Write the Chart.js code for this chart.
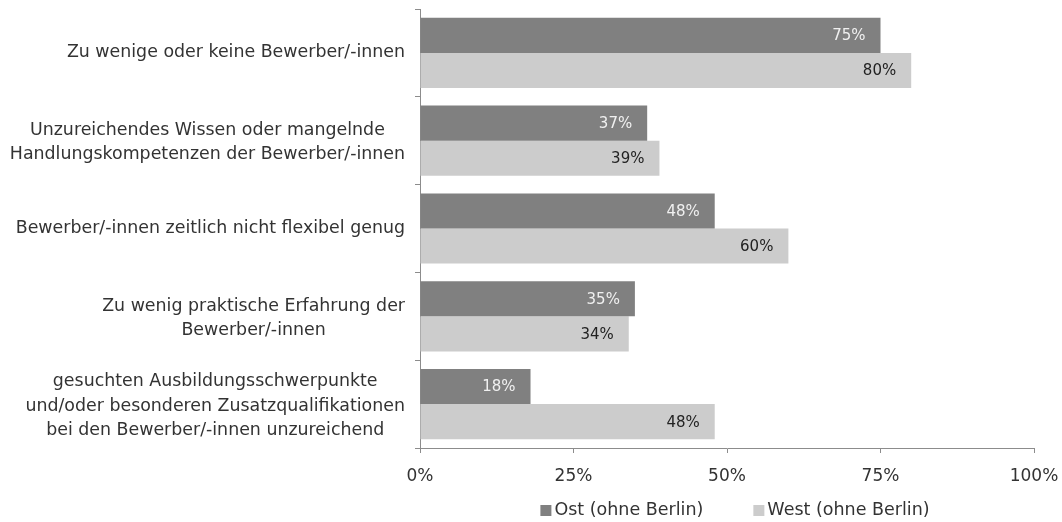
<!DOCTYPE html>
<html lang="de">
<head>
<meta charset="utf-8">
<script src="https://cdn.jsdelivr.net/npm/chart.js@4/dist/chart.umd.min.js"></script>
<style>
  html, body { margin: 0; padding: 0; background: #fff; }
  #wrap { width: 1062px; height: 522px; }
</style>
</head>
<body>
<div id="wrap"><canvas id="chart"></canvas></div>
<script>
'use strict';

// ── Data ─────────────────────────────────────────────────────────────────────

const categories = [
  ['Zu wenige oder keine Bewerber/-innen'],
  ['Unzureichendes Wissen oder mangelnde', 'Handlungskompetenzen der Bewerber/-innen'],
  ['Bewerber/-innen zeitlich nicht flexibel genug'],
  ['Zu wenig praktische Erfahrung der', 'Bewerber/-innen'],
  ['gesuchten Ausbildungsschwerpunkte', 'und/oder besonderen Zusatzqualifikationen', 'bei den Bewerber/-innen unzureichend'],
];
const seriesNames = ['Ost (ohne Berlin)', 'West (ohne Berlin)'];
const ostValues   = [75, 37, 48, 35, 18];
const westValues  = [80, 39, 60, 34, 48];
const xTicks      = [0, 25, 50, 75, 100];

// ── Style ────────────────────────────────────────────────────────────────────

const FONT      = "'DejaVu Sans', Verdana, sans-serif";
const TEXT      = '#333333';
const AXIS      = '#8c8c8c';
const DARK_BAR  = '#808080';
const LIGHT_BAR = '#cccccc';
const COLORS    = [DARK_BAR, LIGHT_BAR];

// Category labels: each block right-aligned to the axis, lines centred within it.
const categoryLabels = {
  id: 'categoryLabels',
  afterDraw(chart) {
    const { ctx, scales: { y }, chartArea } = chart;
    const right = chartArea.left - 15;
    const lineH = 24.5;
    ctx.save();
    ctx.font = '17.4px ' + FONT;
    ctx.fillStyle = TEXT;
    ctx.textAlign = 'center';
    ctx.textBaseline = 'middle';
    categories.forEach((lines, i) => {
      const w = Math.max(...lines.map(l => ctx.measureText(l).width));
      const cx = right - w / 2;
      const cy = y.getPixelForValue(i) + (lines.length > 1 ? 2 : 0);
      lines.forEach((l, k) => {
        ctx.fillText(l, cx, cy + (k - (lines.length - 1) / 2) * lineH);
      });
    });
    ctx.restore();
  },
};

// Value labels inside the end of each bar.
const valueLabels = {
  id: 'valueLabels',
  afterDatasetsDraw(chart) {
    const { ctx } = chart;
    ctx.save();
    ctx.font = '15px ' + FONT;
    ctx.textAlign = 'right';
    ctx.textBaseline = 'middle';
    chart.data.datasets.forEach((ds, di) => {
      chart.getDatasetMeta(di).data.forEach((bar, i) => {
        ctx.fillStyle = di === 0 ? '#f0f0f0' : '#222222';
        ctx.fillText(ds.data[i] + '%', bar.x - 15, bar.y + 1);
      });
    });
    ctx.restore();
  },
};

// Legend below the axis: small square, tight gap, text.
const bottomLegend = {
  id: 'bottomLegend',
  afterDraw(chart) {
    const { ctx } = chart;
    const box = 11, gap = 3, between = 50, cy = 510, centre = 735;
    ctx.save();
    ctx.font = '17.5px ' + FONT;
    ctx.textBaseline = 'middle';
    ctx.textAlign = 'left';
    const widths = seriesNames.map(n => ctx.measureText(n).width);
    const total = widths.reduce((s, w) => s + box + gap + w, 0) + between;
    let x = centre - total / 2;
    seriesNames.forEach((n, i) => {
      ctx.fillStyle = COLORS[i];
      ctx.fillRect(x, cy - 5, box, box);
      ctx.fillStyle = TEXT;
      ctx.fillText(n, x + box + gap, cy);
      x += box + gap + widths[i] + between;
    });
    ctx.restore();
  },
};

new Chart(document.getElementById('chart'), {
  type: 'bar',
  data: {
    labels: categories,
    datasets: [
      { label: seriesNames[0], data: ostValues,  backgroundColor: DARK_BAR },
      { label: seriesNames[1], data: westValues, backgroundColor: LIGHT_BAR },
    ],
  },
  options: {
    indexAxis: 'y',
    responsive: true,
    maintainAspectRatio: false,
    animation: false,
    categoryPercentage: 0.8,
    barPercentage: 1.0,
    layout: { padding: { top: 9, right: 0, bottom: 0, left: 0 } },
    scales: {
      x: {
        min: 0,
        max: 100,
        afterBuildTicks(scale) {
          scale.ticks = xTicks.map(v => ({ value: v }));
        },
        afterFit(scale) {
          scale.height = 74;
          scale.paddingLeft = 0;
          scale.paddingRight = 28;
        },
        grid: { drawOnChartArea: false, color: AXIS, tickLength: 5 },
        border: { color: AXIS },
        ticks: {
          color: TEXT,
          padding: 13,
          maxRotation: 0,
          font: { family: FONT, size: 17 },
          callback: v => v + '%',
        },
      },
      y: {
        afterFit(scale) { scale.width = 420; },
        grid: { drawOnChartArea: false, color: AXIS, tickLength: 5, offset: true },
        border: { color: AXIS },
        ticks: { display: false },
      },
    },
    plugins: {
      legend: { display: false },
      tooltip: { enabled: false },
    },
  },
  plugins: [categoryLabels, valueLabels, bottomLegend],
});
</script>
</body>
</html>
